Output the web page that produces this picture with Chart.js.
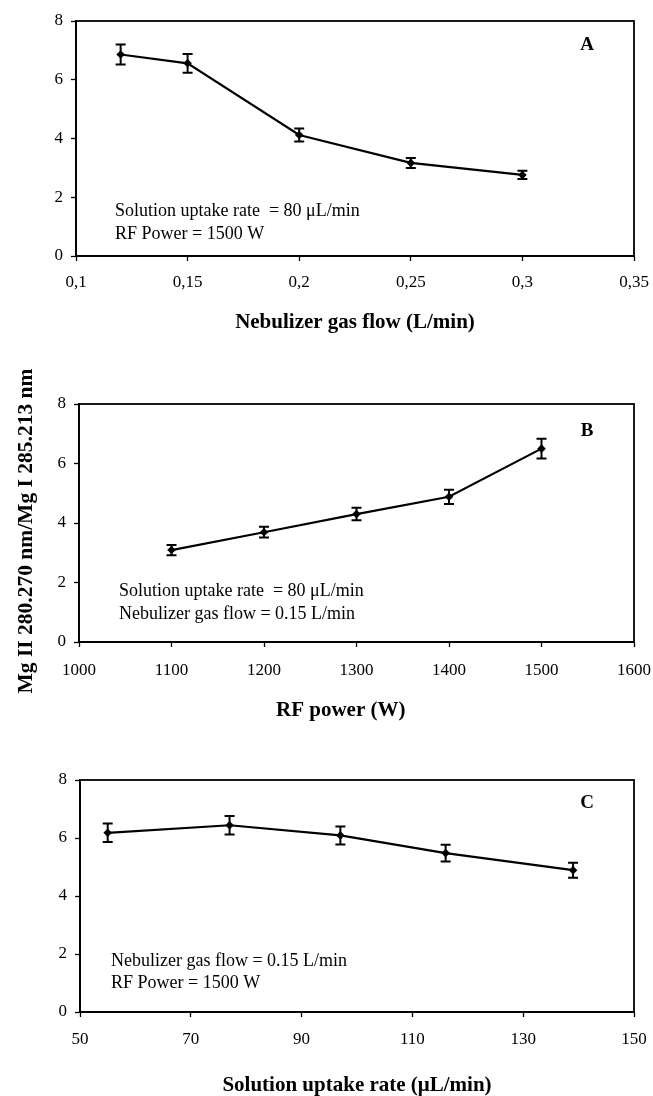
<!DOCTYPE html>
<html><head><meta charset="utf-8">
<script src="https://cdn.jsdelivr.net/npm/chart.js@4.4.0/dist/chart.umd.min.js"></script>
<style>
html,body{margin:0;padding:0;background:#fff;}
#wrap{position:relative;width:653px;height:1096px;background:#fff;}
canvas{position:absolute;left:0;}
</style></head><body>
<div id="wrap">
<canvas id="cA" width="653" height="340" style="top:0px"></canvas>
<canvas id="cB" width="653" height="390" style="top:340px"></canvas>
<canvas id="cC" width="653" height="366" style="top:730px"></canvas>
</div>
<script>
// ---- Data ----
const nebulizerFlow = [0.12, 0.15, 0.2, 0.25, 0.3];
const ratioA = [6.86, 6.56, 4.12, 3.17, 2.76];
const errA = [0.34, 0.32, 0.22, 0.17, 0.14];
const tickLabelsA = ['0,1', '0,15', '0,2', '0,25', '0,3', '0,35'];

const rfPower = [1100, 1200, 1300, 1400, 1500];
const ratioB = [3.09, 3.69, 4.30, 4.88, 6.50];
const errB = [0.17, 0.18, 0.21, 0.24, 0.33];
const tickLabelsB = ['1000', '1100', '1200', '1300', '1400', '1500', '1600'];

const uptakeRate = [55, 77, 97, 116, 139];
const ratioC = [6.18, 6.44, 6.09, 5.48, 4.89];
const errC = [0.32, 0.32, 0.31, 0.29, 0.26];
const tickLabelsC = ['50', '70', '90', '110', '130', '150'];

const yTickLabels = ['0', '2', '4', '6', '8'];

const notesA = ['Solution uptake rate  = 80 \u03bcL/min', 'RF Power = 1500 W'];
const notesB = ['Solution uptake rate  = 80 \u03bcL/min', 'Nebulizer gas flow = 0.15 L/min'];
const notesC = ['Nebulizer gas flow = 0.15 L/min', 'RF Power = 1500 W'];

const SERIF = "'Liberation Serif', 'Times New Roman', serif";

function panelPlugin(p) {
  return {
    id: 'panelDeco',
    afterDatasetsDraw(chart) {
      const ctx = chart.ctx, a = chart.chartArea;
      const xs = chart.scales.x, ys = chart.scales.y;
      ctx.save();
      // frame
      ctx.strokeStyle = '#000';
      ctx.lineWidth = 1.8;
      ctx.strokeRect(a.left, a.top, a.right - a.left, a.bottom - a.top);
      // error bars
      ctx.lineWidth = 2;
      p.xs.forEach((xv, i) => {
        const px = xs.getPixelForValue(xv);
        const y1 = ys.getPixelForValue(p.ys[i] + p.err[i]);
        const y2 = ys.getPixelForValue(p.ys[i] - p.err[i]);
        ctx.beginPath();
        ctx.moveTo(px, y1); ctx.lineTo(px, y2);
        ctx.moveTo(px - 5, y1); ctx.lineTo(px + 5, y1);
        ctx.moveTo(px - 5, y2); ctx.lineTo(px + 5, y2);
        ctx.stroke();
      });
      // notes
      ctx.fillStyle = '#000';
      ctx.textBaseline = 'middle';
      ctx.textAlign = 'left';
      ctx.font = '18px ' + SERIF;
      p.notes.forEach((t, i) => {
        ctx.fillText(t, a.left + p.noteDx, a.top + p.noteDy + i * p.noteGap);
      });
      // letter
      ctx.textAlign = 'center';
      ctx.font = 'bold 19px ' + SERIF;
      ctx.fillText(p.letter, a.right - 47, a.top + p.letterDy);
      ctx.restore();
    }
  };
}

function makeChart(id, p) {
  const data = p.xs.map((x, i) => ({ x: x, y: p.ys[i] }));
  return new Chart(document.getElementById(id), {
    type: 'scatter',
    data: {
      datasets: [{
        data: data,
        showLine: true,
        borderColor: '#000',
        borderWidth: 2.2,
        backgroundColor: '#000',
        pointStyle: 'rectRot',
        pointRadius: 4.3,
        pointHoverRadius: 4.3,
        pointBorderWidth: 0
      }]
    },
    options: {
      responsive: false,
      animation: false,
      events: [],
      layout: { padding: { left: 0, right: 19, top: p.top, bottom: 0 } },
      plugins: { legend: { display: false }, tooltip: { enabled: false } },
      scales: {
        x: {
          type: 'linear',
          min: p.xMin, max: p.xMax,
          afterFit: s => { s.height = p.xAxisH; s.paddingLeft = 0; s.paddingRight = 0; },
          border: { display: true, color: '#000', width: 1.8 },
          grid: { drawOnChartArea: false, color: '#000', tickLength: 5, tickWidth: 1.3 },
          ticks: {
            stepSize: p.xStep, padding: p.xTickPad, color: '#000',
            font: { family: SERIF, size: 17 },
            maxRotation: 0, autoSkip: false,
            callback: (v, i) => p.xLabels[i]
          },
          title: {
            display: true, text: p.xTitle, color: '#000',
            font: { family: SERIF, size: 21, weight: 'bold', lineHeight: 1 },
            padding: { top: 0, bottom: p.xTitlePad }
          }
        },
        y: {
          min: 0, max: 8,
          afterFit: s => { s.width = p.yAxisW; s.paddingTop = 0; s.paddingBottom = 0; },
          border: { display: true, color: '#000', width: 1.8 },
          grid: { drawOnChartArea: false, color: '#000', tickLength: 5, tickWidth: 1.3 },
          ticks: {
            stepSize: 2, padding: 8, color: '#000',
            font: { family: SERIF, size: 17 },
            callback: (v, i) => yTickLabels[i]
          },
          title: p.yTitle ? {
            display: true, text: p.yTitle, color: '#000',
            font: { family: SERIF, size: 21.5, weight: 'bold', lineHeight: 1.2 },
            padding: { top: 14, bottom: 0 }
          } : { display: false }
        }
      }
    },
    plugins: [panelPlugin(p)]
  });
}

makeChart('cA', {
  xs: nebulizerFlow, ys: ratioA, err: errA,
  xMin: 0.1, xMax: 0.35, xStep: 0.05, xLabels: tickLabelsA,
  xTitle: 'Nebulizer gas flow (L/min)',
  top: 21, xAxisH: 84, yAxisW: 76, xTitlePad: 7, xTickPad: 11.5,
  notes: notesA, noteDx: 39, noteDy: 190, noteGap: 23,
  letter: 'A', letterDy: 24
});
makeChart('cB', {
  xs: rfPower, ys: ratioB, err: errB,
  xMin: 1000, xMax: 1600, xStep: 100, xLabels: tickLabelsB,
  xTitle: 'RF power (W)      ',
  yTitle: 'Mg II 280.270 nm/Mg I 285.213 nm   ',
  top: 64, xAxisH: 88, yAxisW: 79, xTitlePad: 8.5, xTickPad: 13,
  notes: notesB, noteDx: 40, noteDy: 187, noteGap: 23,
  letter: 'B', letterDy: 27
});
makeChart('cC', {
  xs: uptakeRate, ys: ratioC, err: errC,
  xMin: 50, xMax: 150, xStep: 20, xLabels: tickLabelsC,
  xTitle: 'Solution uptake rate (\u03bcL/min)',
  top: 50, xAxisH: 84, yAxisW: 80, xTitlePad: 0, xTickPad: 12,
  notes: notesC, noteDx: 31, noteDy: 181, noteGap: 22,
  letter: 'C', letterDy: 23
});
</script>
</body></html>
